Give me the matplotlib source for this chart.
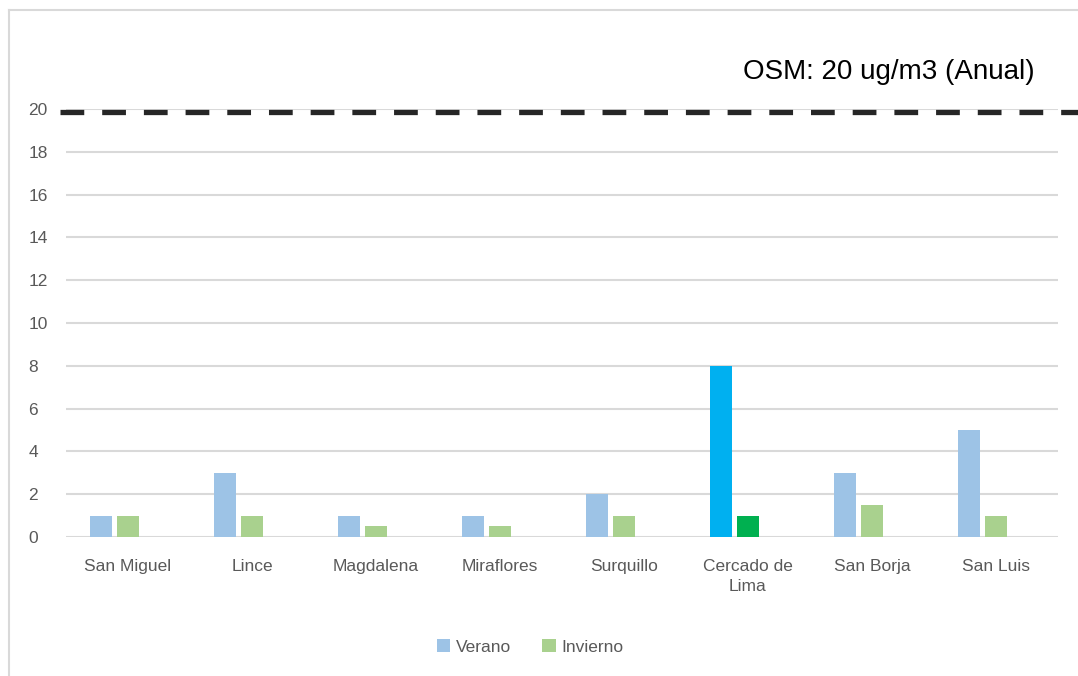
import numpy as np
import matplotlib
matplotlib.use("Agg")
import matplotlib.pyplot as plt
from matplotlib.patches import Patch
from matplotlib.lines import Line2D
import matplotlib.transforms as mtransforms

plt.rcParams['font.family'] = ['Liberation Sans', 'DejaVu Sans']

# data
districts = ["San Miguel", "Lince", "Magdalena", "Miraflores", "Surquillo",
             "Cercado de\nLima", "San Borja", "San Luis"]
verano = [1, 3, 1, 1, 2, 8, 3, 5]
invierno = [1, 1, 0.5, 0.5, 1, 1, 1.5, 1]
osm_limit = 20
highlight = "Cercado de\nLima"

c_ver = "#9DC3E6"
c_inv = "#A9D18E"
c_ver_hi = "#00B0F0"
c_inv_hi = "#00B050"
grid_c = "#D9D9D9"
text_c = "#595959"

fig = plt.figure(figsize=(10.78, 6.76), dpi=100)
ax = fig.add_axes([66 / 1078, 1 - 537 / 676, 992 / 1078, 428 / 676])

x = np.arange(len(districts))
w = 0.177
off = 0.218
ver_cols = [c_ver_hi if d == highlight else c_ver for d in districts]
inv_cols = [c_inv_hi if d == highlight else c_inv for d in districts]
ax.bar(x - off, verano, width=w, color=ver_cols, zorder=3)
ax.bar(x, invierno, width=w, color=inv_cols, zorder=3)

ax.set_xlim(-0.5, len(districts) - 0.5)
ax.set_ylim(0, 20)
ax.set_yticks(range(0, 21, 2))
ax.set_xticks(x)
ax.set_xticklabels(districts, fontsize=12.5, color=text_c, linespacing=1.4)
ax.tick_params(axis='y', labelsize=12.5, labelcolor=text_c, length=0, pad=27)
ax.tick_params(axis='x', length=0, pad=16)
for lab in ax.get_yticklabels():
    lab.set_horizontalalignment('left')
ax.grid(axis='y', color=grid_c, linewidth=1.5, zorder=0)
for s in ax.spines.values():
    s.set_visible(False)

# OSM limit line, runs past the plot area to the right edge
trans = mtransforms.blended_transform_factory(ax.transAxes, ax.transData)
ax.plot([-0.006, 1.03], [osm_limit - 0.15, osm_limit - 0.15], transform=trans,
        color="#262626", linewidth=3.8, dashes=(4.5, 3.4), clip_on=False, zorder=4)
fig.text(1035 / 1078, 1 - 72 / 676, "OSM: 20 ug/m3 (Anual)", fontsize=20,
         color="black", ha='right', va='center')

handles = [Patch(facecolor=c_ver), Patch(facecolor=c_inv)]
leg = fig.legend(handles, ["Verano", "Invierno"], loc='center',
                 bbox_to_anchor=(530 / 1078, 1 - 647 / 676), ncol=2, frameon=False,
                 fontsize=12.5, handlelength=0.8, handleheight=0.8, handletextpad=0.3,
                 columnspacing=1.8)
for t in leg.get_texts():
    t.set_color(text_c)

# outer chart frame (only top and left visible)
fig.add_artist(Line2D([9 / 1078, 9 / 1078], [0, 1 - 10 / 676], transform=fig.transFigure,
                      color=grid_c, linewidth=1.5))
fig.add_artist(Line2D([9 / 1078, 1], [1 - 10 / 676, 1 - 10 / 676], transform=fig.transFigure,
                      color=grid_c, linewidth=1.5))

fig.savefig("out.png", dpi=100)
